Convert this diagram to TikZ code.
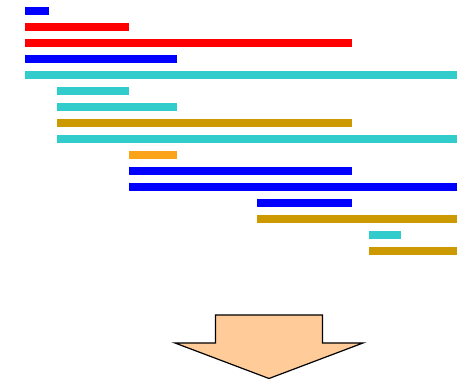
\documentclass[tikz,border=0pt]{standalone}
\definecolor{cblue}{RGB}{0,0,255}
\definecolor{cred}{RGB}{255,0,0}
\definecolor{ccyan}{RGB}{51,204,204}
\definecolor{cgold}{RGB}{204,153,0}
\definecolor{corange}{RGB}{251,163,25}
\definecolor{cpeach}{RGB}{255,204,153}
\tikzset{bar/.style={fill=#1, draw=none}}
\begin{document}
\begin{tikzpicture}[x=1pt,y=-1pt]
\useasboundingbox (0,0) rectangle (466,379);
\fill[bar=cblue]   (25,7)   rectangle (49,15);
\fill[bar=cred]    (25,23)  rectangle (129,31);
\fill[bar=cred]    (25,39)  rectangle (352,47);
\fill[bar=cblue]   (25,55)  rectangle (177,63);
\fill[bar=ccyan]   (25,71)  rectangle (457,79);
\fill[bar=ccyan]   (57,87)  rectangle (129,95);
\fill[bar=ccyan]   (57,103) rectangle (177,111);
\fill[bar=cgold]   (57,119) rectangle (352,127);
\fill[bar=ccyan]   (57,135) rectangle (457,143);
\fill[bar=corange] (129,151) rectangle (177,159);
\fill[bar=cblue]   (129,167) rectangle (352,175);
\fill[bar=cblue]   (129,183) rectangle (457,191);
\fill[bar=cblue]   (257,199) rectangle (352,207);
\fill[bar=cgold]   (257,215) rectangle (457,223);
\fill[bar=ccyan]   (369,231) rectangle (401,239);
\fill[bar=cgold]   (369,247) rectangle (457,255);
\draw[fill=cpeach, line width=1.2pt, line join=miter]
  (215.5,315) -- (322.5,315) -- (322.5,343) -- (363,343) -- (269,378.5)
  -- (175,343) -- (215.5,343) -- cycle;
\end{tikzpicture}
\end{document}
